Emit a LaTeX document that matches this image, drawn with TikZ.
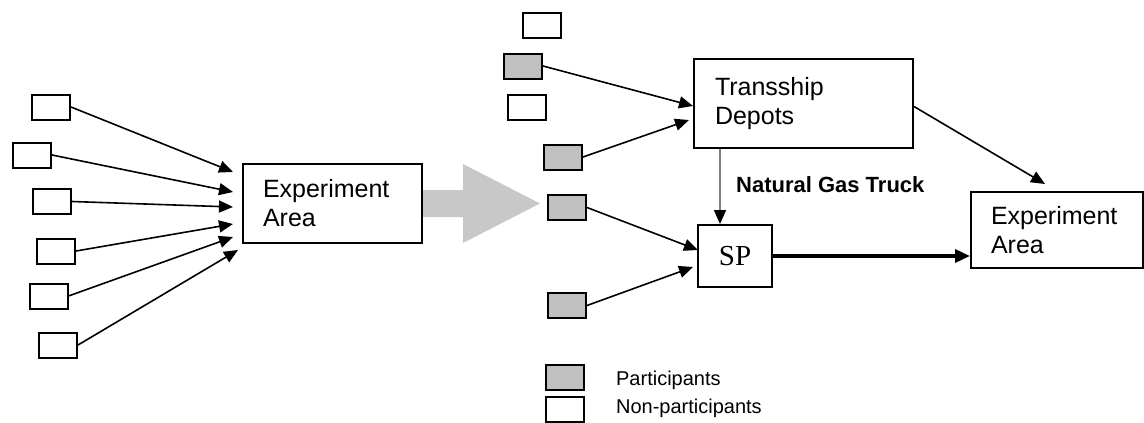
\documentclass[tikz,border=0pt]{standalone}
\usepackage{fontspec}
\setmainfont{Liberation Sans}
\newfontfamily\spfont{Liberation Serif}
\usetikzlibrary{arrows.meta,calc}

\begin{document}
\begin{tikzpicture}[x=1pt,y=-1pt,>={Triangle[length=14pt,width=12pt]},line width=1.6pt,
  unit/.style={draw,line width=2pt,minimum width=38pt,minimum height=25pt,inner sep=0pt},
  part/.style={unit,fill=partcolor},
  nonpart/.style={unit,fill=white},
  area/.style={draw,line width=2pt,align=left,inner xsep=20pt,inner ysep=0pt,
    font=\fontsize{25}{29}\selectfont}]
\definecolor{partcolor}{RGB}{192,192,192}
\definecolor{shiftcolor}{RGB}{200,200,200}
\definecolor{truckcolor}{RGB}{128,128,128}

\useasboundingbox (0,0) rectangle (1144,423);

% Before: every farm ships straight to the experiment area.
\node[nonpart] (s1) at (51,107) {};
\node[nonpart] (s2) at (32,155) {};
\node[nonpart] (s3) at (52,201.5) {};
\node[nonpart] (s4) at (56,251) {};
\node[nonpart] (s5) at (48.5,296) {};
\node[nonpart] (s6) at (58,345) {};
\node[area,text width=139pt,minimum height=79pt] (ea1) at (332.5,203.5) {Experiment\\Area};

\coordinate (e1) at (233,172);
\coordinate (e2) at (233,192);
\coordinate (e3) at (233,207);
\coordinate (e4) at (233,224);
\coordinate (e5) at (233,237);
\coordinate (e6) at (238,250);
\draw[->] (s1.east) -- (e1);
\draw[->] (s2.east) -- (e2);
\draw[->] (s3.east) -- (e3);
\draw[->] (s4.east) -- (e4);
\draw[->] (s5.east) -- (e5);
\draw[->] (s6.east) -- (e6);

% Big grey arrow: before -> after.
\fill[shiftcolor] (ea1.east) ++(0,-13.5) -- ++(40,0) -- ++(0,-26) -- ++(77,39.5)
  -- ++(-77,39.5) -- ++(0,-26) -- ++(-40,0) -- cycle;

% After: participants go through depots and SP.
\node[nonpart] (p1) at (541.5,25) {};
\node[part] (p2) at (523,66) {};
\node[nonpart] (p3) at (527,107) {};
\node[part] (p4) at (563,157) {};
\node[part] (p5) at (567,207.5) {};
\node[part] (p6) at (567,305.5) {};

\node[area,text width=177pt,minimum height=89pt,inner xsep=21pt] (td) at (803.5,103.5) {Transship\\Depots};
\node[draw,line width=2pt,minimum width=74pt,minimum height=62pt,inner sep=0pt,
  font=\spfont\fontsize{29}{33}\selectfont] (sp) at (735,256) {SP};
\node[area,text width=132pt,minimum height=76pt] (ea2) at (1057,230) {Experiment\\Area};

\coordinate (d1) at (693,106);
\coordinate (d2) at (689,120);
\coordinate (c1) at (698,250);
\coordinate (c2) at (693,267);
\draw[->] (p2.east) -- (d1);
\draw[->] (p4.east) -- (d2);
\draw[->] (p5.east) -- (c1);
\draw[->] (p6.east) -- (c2);

% Depot to SP by truck, then on to the experiment area.
\draw[truckcolor,-{Triangle[length=14pt,width=12pt,color=black]}]
  ($(td.south west)+(27,0)$) -- ($(sp.north west)+(23,0)$);
\node[anchor=west,font=\bfseries\fontsize{22}{26}\selectfont] (truck) at (732,185) {Natural Gas Truck};

\coordinate (a1) at (1045,184);
\draw[->] (td.east) ++(0,3) coordinate (tdo) -- (a1);
\draw[line width=3.5pt,-{Triangle[length=15pt,width=13pt]}] (sp.east) -- (sp.east -| ea2.west);

% Legend.
\node[part] (lp) at (564.5,377) {};
\node[nonpart] (ln) at (564.5,409) {};
\node[anchor=west,font=\fontsize{20}{24}\selectfont] (lpt) at (612,380) {Participants};
\node[anchor=west,font=\fontsize{20}{24}\selectfont] (lnt) at (612,408) {Non-participants};
\end{tikzpicture}
\end{document}
